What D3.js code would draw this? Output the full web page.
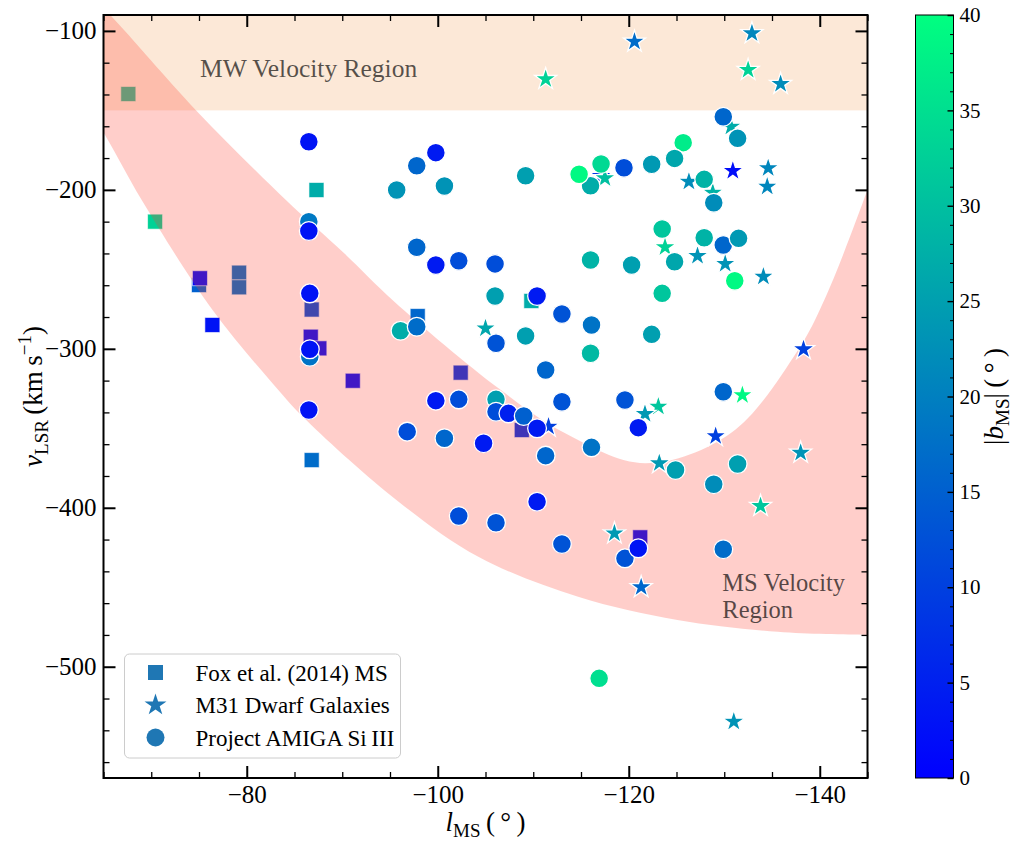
<!DOCTYPE html>
<html>
<head>
<meta charset="utf-8">
<script src="https://cdn.jsdelivr.net/npm/d3@7"></script>
<style>
  body { margin: 0; background: #fff; }
  svg { display: block; font-family: "Liberation Serif", "Times New Roman", serif; }
</style>
</head>
<body>
<div id="chart"></div>
<script>
// Fox et al. (2014) MS - quadrados
const foxL = [-67.6, -70.4, -87.3, -75.0, -75.1, -79.2, -79.2, -76.4, -86.8, -86.7, -87.6, -91.1, -102.4, -97.9, -86.8, -109.8, -108.8, -121.2];
const foxV = [-139.7, -220.0, -200.1, -259.9, -255.6, -252.1, -261.3, -285.0, -275.3, -292.4, -299.7, -320.1, -315.0, -279.4, -370.0, -269.9, -351.1, -418.6];
const foxB = [30, 33, 27, 15, 2, 17, 17, 3, 12, 2, 2, 2, 8, 16, 17, 27, 8, 2];

// M31 Dwarf Galaxies - estrelas
const m31L = [-120.6, -132.9, -111.3, -132.5, -135.9, -130.7, -117.1, -117.5, -126.3, -128.8, -130.9, -134.6, -134.5, -123.8, -127.2, -130.1, -134.1, -105.0, -131.9, -138.3, -123.1, -121.7, -129.1, -111.6, -123.2, -138.0, -133.8, -118.5, -121.3, -131.0];
const m31V = [-106.8, -101.5, -130.3, -124.6, -133.4, -160.3, -191.3, -192.7, -194.9, -201.8, -188.1, -186.4, -198.0, -236.1, -241.6, -246.6, -254.6, -287.1, -329.1, -300.3, -336.4, -341.0, -354.9, -349.0, -372.0, -365.4, -398.9, -416.1, -450.0, -534.6];
const m31B = [17, 21, 33, 33, 22, 27, 8, 30, 22, 28, 2, 21, 21, 33, 23, 23, 22, 26, 39, 10, 31, 24, 10, 10, 24, 23, 31, 24, 16, 23];

// Project AMIGA Si III - circulos
const amigaL = [-86.5, -99.8, -97.8, -95.7, -100.7, -86.5, -86.5, -97.8, -99.8, -102.2, -106.0, -106.0, -86.6, -86.6, -86.6, -96.1, -97.8, -106.1, -106.1, -106.1, -86.5, -96.8, -100.7, -99.8, -102.2, -104.8, -102.2, -106.1,
  -129.9, -131.4, -125.7, -124.8, -122.4, -119.5, -117.1, -116.0, -114.8, -109.2, -127.9, -128.9, -123.5, -124.8, -127.9, -129.9, -131.5, -131.1, -116.0, -120.3, -123.5,
  -110.4, -113.0, -116.1, -109.2, -116.0, -122.4, -111.3, -113.0, -119.6, -129.9, -121.0, -107.4, -109.0, -110.4, -116.1, -111.3, -124.9, -131.4, -128.9, -110.4, -113.0, -119.6, -121.0, -129.9, -116.9];
const amigaV = [-169.7, -176.6, -184.8, -200.1, -197.6, -220.0, -225.9, -236.1, -247.3, -244.6, -246.6, -266.8, -265.1, -305.0, -300.3, -288.6, -286.1, -296.5, -331.8, -339.6, -338.5, -352.1, -356.3, -332.6, -331.8, -359.4, -405.2, -409.4,
  -154.0, -167.6, -170.3, -180.2, -183.9, -186.1, -183.7, -197.4, -190.2, -191.1, -193.4, -208.1, -224.6, -245.2, -230.1, -234.7, -230.5, -257.2, -244.1, -247.3, -265.1,
  -266.8, -278.1, -285.0, -291.9, -302.8, -290.9, -313.3, -333.3, -332.2, -327.0, -349.6, -340.6, -342.3, -350.0, -362.0, -367.2, -376.2, -372.5, -385.2, -396.2, -422.8, -431.8, -425.5, -426.1, -507.3];
const amigaB = [3, 4, 16, 23, 23, 19, 3, 16, 4, 12, 12, 25, 3, 18, 3, 27, 17, 13, 25, 12, 3, 12, 16, 4, 12, 4, 12, 13,
  16, 23, 37, 26, 24, 12, 34, 27, 39, 25, 28, 22, 31, 26, 28, 16, 24, 39, 28, 25, 31,
  4, 13, 18, 25, 29, 25, 16, 13, 13, 16, 4, 5, 15, 4, 18, 16, 25, 25, 22, 4, 13, 13, 3, 17, 35];

// Bordas da faixa "MS Velocity Region" (l, v)
const msUpper = [[-62, -68], [-65.7, -90], [-74.7, -150], [-84.1, -206.4], [-90.2, -239.9], [-95.4, -270], [-106.4, -325], [-113.3, -353], [-121.7, -372], [-130.7, -353], [-137.7, -301], [-140.5, -269], [-145, -200], [-147, -165]];
const msLower = [[-62, -135], [-65.2, -166], [-69.0, -206.4], [-76.4, -275.5], [-82.4, -319.6], [-86.2, -344.7], [-95.9, -396.2], [-104.3, -431], [-114.7, -456], [-125.1, -470.6], [-135.6, -478], [-145, -480], [-148, -480]];
const mwRange = [-90, -150];

const xMajor = [-80, -100, -120, -140];
const yMajor = [-100, -200, -300, -400, -500];
const cbMajor = [0, 5, 10, 15, 20, 25, 30, 35, 40];

const legendLabels = ["Fox et al. (2014) MS", "M31 Dwarf Galaxies", "Project AMIGA Si\u2009III"];

// Configuração
const width = 1018, height = 842;
const m = { left: 103.5, right: 867.5, top: 15, bottom: 778 };
const serif = '"Liberation Serif", "Times New Roman", serif';

const svg = d3.select("#chart").append("svg").attr("width", width).attr("height", height);

const x = d3.scaleLinear().domain([-65, -145]).range([m.left, m.right]);
const y = d3.scaleLinear().domain([-90, -570]).range([m.top, m.bottom]);
const color = d3.scaleLinear().domain([0, 40]).range(["rgb(0,0,255)", "rgb(0,255,128)"]);

svg.append("defs").append("clipPath").attr("id", "plotClip")
  .append("rect").attr("x", m.left).attr("y", m.top)
  .attr("width", m.right - m.left).attr("height", m.bottom - m.top);

const zip = (L, V, B) => L.map((l, i) => ({ l: l, v: V[i], b: B[i] }));
const fox = zip(foxL, foxV, foxB);
const m31 = zip(m31L, m31V, m31B);
const amiga = zip(amigaL, amigaV, amigaB);

const plot = svg.append("g").attr("clip-path", "url(#plotClip)");

// 1. quadrados (ficam embaixo das regioes sombreadas)
plot.selectAll("rect.fox").data(fox).enter().append("rect")
  .attr("class", "fox")
  .attr("x", d => x(d.l) - 7.5).attr("y", d => y(d.v) - 7.5)
  .attr("width", 15).attr("height", 15)
  .attr("fill", d => color(d.b))
  .attr("stroke", "#fff").attr("stroke-opacity", 0.6).attr("stroke-width", 1);

// 2. regioes
plot.append("rect")
  .attr("x", m.left).attr("y", y(mwRange[0]))
  .attr("width", m.right - m.left).attr("height", y(mwRange[1]) - y(mwRange[0]))
  .attr("fill", "#f4a460").attr("fill-opacity", 0.25);

const edge = d3.line().x(d => x(d[0])).y(d => y(d[1])).curve(d3.curveCatmullRom);
const upperD = edge(msUpper);
const lowerD = edge(msLower.slice().reverse());
plot.append("path")
  .attr("d", upperD + lowerD.replace(/^M/, "L") + "Z")
  .attr("fill", "rgb(255,60,45)").attr("fill-opacity", 0.25);

plot.append("text")
  .attr("x", x(-75.1)).attr("y", y(-128.8))
  .attr("font-size", 25.5).attr("fill", "#000").attr("fill-opacity", 0.67)
  .text("MW Velocity Region");

const msText = plot.append("text")
  .attr("x", x(-129.8)).attr("y", y(-452.5))
  .attr("font-size", 24.5).attr("fill", "#000").attr("fill-opacity", 0.67);
msText.append("tspan").attr("x", x(-129.8)).text("MS Velocity");
msText.append("tspan").attr("x", x(-129.8)).attr("dy", 27).text("Region");

// 3. estrelas
const star = d3.symbol().type(d3.symbolStar).size(150);
plot.selectAll("path.m31").data(m31).enter().append("path")
  .attr("class", "m31")
  .attr("d", star)
  .attr("transform", d => `translate(${x(d.l)},${y(d.v)})`)
  .attr("fill", d => color(d.b))
  .attr("stroke", "#fff").attr("stroke-width", 1.3);

// 4. circulos
plot.selectAll("circle.amiga").data(amiga).enter().append("circle")
  .attr("class", "amiga")
  .attr("cx", d => x(d.l)).attr("cy", d => y(d.v)).attr("r", 9.4)
  .attr("fill", d => color(d.b))
  .attr("stroke", "#fff").attr("stroke-width", 1.3);

// Eixos (ticks para dentro nos quatro lados)
function minorRange(a, b, step, skip) {
  const out = [];
  for (let t = a; t >= b; t -= step) if (!skip.includes(t)) out.push(t);
  return out;
}
const xMinor = minorRange(-65, -145, 5, xMajor);
const yMinor = minorRange(-100, -560, 20, yMajor);

function styleAxis(g, size, width) {
  g.select(".domain").remove();
  g.selectAll("line").attr("stroke", "#000").attr("stroke-width", width);
  g.attr("font-family", null).attr("font-size", null);
  g.selectAll("text").attr("fill", "#000")
    .style("font-family", serif).style("font-size", size + "px");
}

const axes = [
  [d3.axisBottom, x, `translate(0,${m.bottom})`, xMajor, xMinor, true],
  [d3.axisTop, x, `translate(0,${m.top})`, xMajor, xMinor, false],
  [d3.axisLeft, y, `translate(${m.left},0)`, yMajor, yMinor, true],
  [d3.axisRight, y, `translate(${m.right},0)`, yMajor, yMinor, false]
];
axes.forEach(([fn, sc, tr, major, minor, labels]) => {
  svg.append("g").attr("transform", tr)
    .call(fn(sc).tickValues(minor).tickSize(-6).tickFormat(""))
    .call(g => styleAxis(g, 25, 1.3));
  svg.append("g").attr("transform", tr)
    .call(fn(sc).tickValues(major).tickSize(-12).tickPadding(7).tickFormat(labels ? d3.format("d") : ""))
    .call(g => styleAxis(g, 25, 2));
});

svg.append("rect")
  .attr("x", m.left).attr("y", m.top)
  .attr("width", m.right - m.left).attr("height", m.bottom - m.top)
  .attr("fill", "none").attr("stroke", "#000").attr("stroke-width", 2);

// Rotulos dos eixos
const xl = svg.append("text").attr("x", (m.left + m.right) / 2).attr("y", 831)
  .attr("text-anchor", "middle").attr("font-size", 27);
xl.append("tspan").attr("font-style", "italic").text("l");
xl.append("tspan").attr("font-size", 19).attr("dy", 6).text("MS");
xl.append("tspan").attr("dy", -6).text("\u2009(\u2009\u00b0\u2009)");

const yl = svg.append("text").attr("transform", `translate(42,${(m.top + m.bottom) / 2}) rotate(-90)`)
  .attr("text-anchor", "middle").attr("font-size", 27);
yl.append("tspan").attr("font-style", "italic").text("v");
yl.append("tspan").attr("font-size", 19).attr("dy", 6).text("LSR");
yl.append("tspan").attr("dy", -6).text("\u2009(km\u2009s");
yl.append("tspan").attr("font-size", 19).attr("dy", -11).text("\u22121");
yl.append("tspan").attr("dy", 11).text(")");

// Barra de cores
const cb = { x0: 915.5, x1: 953.5 };
const cbScale = d3.scaleLinear().domain([0, 40]).range([m.bottom, m.top]);
const grad = svg.select("defs").append("linearGradient").attr("id", "winter")
  .attr("x1", 0).attr("y1", 1).attr("x2", 0).attr("y2", 0);
grad.append("stop").attr("offset", 0).attr("stop-color", color(0));
grad.append("stop").attr("offset", 1).attr("stop-color", color(40));
svg.append("rect")
  .attr("x", cb.x0).attr("y", m.top).attr("width", cb.x1 - cb.x0).attr("height", m.bottom - m.top)
  .attr("fill", "url(#winter)");

svg.append("g").attr("transform", `translate(${cb.x1},0)`)
  .call(d3.axisRight(cbScale).tickValues(d3.range(0, 41).filter(t => t % 5)).tickSize(-3.5).tickFormat(""))
  .call(g => styleAxis(g, 21, 1));
svg.append("g").attr("transform", `translate(${cb.x1},0)`)
  .call(d3.axisRight(cbScale).tickValues(cbMajor).tickSize(-6).tickPadding(6).tickFormat(d3.format("d")))
  .call(g => styleAxis(g, 21, 1.4));
svg.append("rect")
  .attr("x", cb.x0).attr("y", m.top).attr("width", cb.x1 - cb.x0).attr("height", m.bottom - m.top)
  .attr("fill", "none").attr("stroke", "#000").attr("stroke-width", 1);

const cl = svg.append("text").attr("transform", `translate(1003,${(m.top + m.bottom) / 2}) rotate(-90)`)
  .attr("text-anchor", "middle").attr("font-size", 27);
cl.append("tspan").text("|");
cl.append("tspan").attr("font-style", "italic").text("b");
cl.append("tspan").attr("font-size", 19).attr("dy", 6).text("MS");
cl.append("tspan").attr("dy", -6).text("|\u2009(\u2009\u00b0\u2009)");

// Legenda
const leg = svg.append("g");
leg.append("rect").attr("x", 124.5).attr("y", 654).attr("width", 276).attr("height", 104).attr("rx", 5)
  .attr("fill", "#fff").attr("fill-opacity", 0.8).attr("stroke", "#ccc").attr("stroke-width", 1);
const legY = [672.5, 705, 737.5];
const legColor = "#1f77b4";
leg.append("rect").attr("x", 155.5 - 7.5).attr("y", legY[0] - 7.5).attr("width", 15).attr("height", 15).attr("fill", legColor);
leg.append("path").attr("d", star).attr("transform", `translate(155.5,${legY[1]})`).attr("fill", legColor);
leg.append("circle").attr("cx", 155.5).attr("cy", legY[2]).attr("r", 9).attr("fill", legColor);
legendLabels.forEach((t, i) => {
  leg.append("text").attr("x", 195.5).attr("y", legY[i]).attr("dy", "0.35em")
    .attr("font-size", 23).text(t);
});
</script>
</body>
</html>
